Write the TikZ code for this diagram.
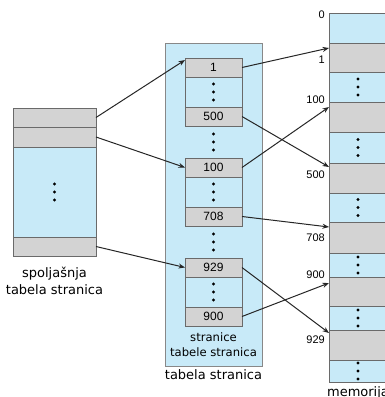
\documentclass[tikz,border=0pt]{standalone}
\usepackage{fontspec}
\setmainfont{DejaVu Sans}
\newfontfamily\numfont{Liberation Sans}
\usetikzlibrary{positioning,calc,arrows.meta}

\definecolor{cellblue}{HTML}{C8EAF8}
\definecolor{cellgray}{HTML}{D3D3D3}
\definecolor{cellline}{HTML}{6A6A6A}

\tikzset{
  cell/.style={draw=cellline, line width=0.8pt, inner sep=0pt, outer sep=0pt, font=\numfont\fontsize{12}{14}\selectfont},
  outercell/.style={cell, minimum width=83pt},
  pagecell/.style={cell, minimum width=57pt},
  memcell/.style={cell, minimum width=58pt},
  graycell/.style={fill=cellgray},
  bluecell/.style={fill=cellblue},
  ptr/.style={-{Stealth[length=6.5pt,width=5pt]}, line width=1pt, draw=black!85},
  dotcol/.pic={\foreach \k in {-1,0,1} \fill (0,8*\k) circle (1.7pt);},
  caption/.style={align=center, inner sep=0pt, font=\fontsize{13}{17}\selectfont},
  addr/.style={anchor=east, inner sep=0pt, font=\numfont\fontsize{11}{13}\selectfont},
}

\begin{document}
\begin{tikzpicture}[x=1pt, y=-1pt]
\useasboundingbox (0,0) rectangle (384,397);

% spoljasnja tabela stranica
\node[outercell, graycell, minimum height=19pt] (o1) at (54.5,117.5) {};
\node[outercell, graycell, minimum height=20pt, below=0pt of o1] (o2) {};
\node[outercell, bluecell, minimum height=90pt, below=0pt of o2] (ob) {};
\node[outercell, graycell, minimum height=19pt, below=0pt of ob] (o3) {};
\pic at (ob) {dotcol};
\node[caption, below=11pt of o3] (olabel) {spoljašnja\\tabela stranica};

% tabela stranica
\node[draw=cellline!80, fill=cellblue, line width=0.8pt, inner sep=0pt, minimum width=97pt, minimum height=323pt] (ptable) at (213.5,204.5) {};
\node[pagecell, graycell, minimum height=19pt] (p1) at (213.5,67.5) {1};
\node[pagecell, bluecell, minimum height=30pt, below=0pt of p1] (s1) {};
\node[pagecell, graycell, minimum height=19pt, below=0pt of s1] (p500) {500};
\node[pagecell, graycell, minimum height=19pt] (p100) at (213.5,167.5) {100};
\node[pagecell, bluecell, minimum height=30pt, below=0pt of p100] (s2) {};
\node[pagecell, graycell, minimum height=19pt, below=0pt of s2] (p708) {708};
\node[pagecell, graycell, minimum height=19pt] (p929) at (213.5,267.5) {929};
\node[pagecell, bluecell, minimum height=30pt, below=0pt of p929] (s3) {};
\node[pagecell, graycell, minimum height=19pt, below=0pt of s3] (p900) {900};
\pic at (s1) {dotcol};
\pic at (s2) {dotcol};
\pic at (s3) {dotcol};
\pic at ($(p500.south)!0.5!(p100.north)$) {dotcol};
\pic at ($(p708.south)!0.5!(p929.north)$) {dotcol};
\node[caption, font=\fontsize{11.6}{15}\selectfont, below=6pt of p900] (plabel) {stranice\\tabele stranica};
\node[caption, below=3pt of ptable] (tlabel) {tabela stranica};

% memorija
\node[memcell, bluecell, minimum height=30pt] (m0) at (358,28) {};
\node[memcell, graycell, minimum height=29pt, below=0pt of m0] (m1) {};
\node[memcell, bluecell, minimum height=30pt, below=0pt of m1] (b1) {};
\node[memcell, graycell, minimum height=30pt, below=0pt of b1] (m100) {};
\node[memcell, bluecell, minimum height=31pt, below=0pt of m100] (b2) {};
\node[memcell, graycell, minimum height=30pt, below=0pt of b2] (m500) {};
\node[memcell, bluecell, minimum height=29pt, below=0pt of m500] (b3) {};
\node[memcell, graycell, minimum height=31pt, below=0pt of b3] (m708) {};
\node[memcell, bluecell, minimum height=24pt, below=0pt of m708] (b4) {};
\node[memcell, graycell, minimum height=29pt, below=0pt of b4] (m900) {};
\node[memcell, bluecell, minimum height=24pt, below=0pt of m900] (b5) {};
\node[memcell, graycell, minimum height=30pt, below=0pt of b5] (m929) {};
\node[memcell, bluecell, minimum height=22pt, below=0pt of m929] (b6) {};
\pic at (b1) {dotcol};
\pic at (b2) {dotcol};
\pic at (b3) {dotcol};
\pic at (b4) {dotcol};
\pic at (b5) {dotcol};
\pic at (b6) {dotcol};
\node[caption, below=4pt of b6] (mlabel) {memorija};

\node[addr] (a0) at (325,15) {0};
\node[addr] (a1) at (325,60) {1};
\node[addr] (a100) at (325,100) {100};
\node[addr] (a500) at (325,175) {500};
\node[addr] (a708) at (325,238) {708};
\node[addr] (a900) at (325,275) {900};
\node[addr] (a929) at (325,340) {929};

% pokazivaci
\draw[ptr] (o1.east) -- ([yshift=-2pt]p1.north west);
\draw[ptr] (o2.east) -- (p100.west);
\draw[ptr] (o3.east) -- (p929.west);
\draw[ptr] (p1.east) -- ([yshift=-5pt]m1.north west);
\draw[ptr] (p500.east) -- ([yshift=-4pt]m500.north west);
\draw[ptr] (p100.east) -- ([yshift=-5pt]m100.north west);
\draw[ptr] (p708.east) -- ([yshift=-5pt]m708.north west);
\draw[ptr] (p929.east) -- ([yshift=-3pt]m929.north west);
\draw[ptr] (p900.east) -- ([yshift=-6pt]m900.north west);
\end{tikzpicture}
\end{document}
